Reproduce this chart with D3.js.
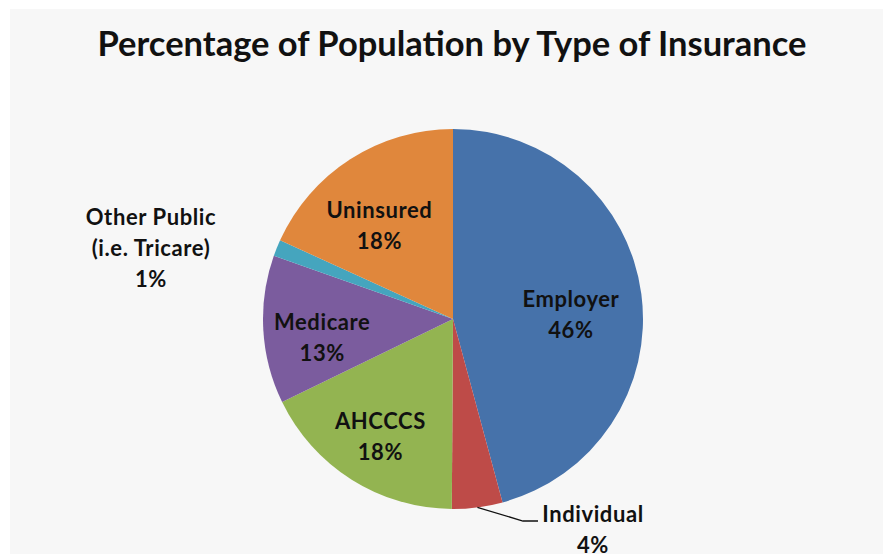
<!DOCTYPE html>
<html>
<head>
<meta charset="utf-8">
<script src="https://cdn.jsdelivr.net/npm/d3@7"></script>
<style>
    body { margin: 0; background: #ffffff; }
    svg text { font-family: Lato, "Open Sans", sans-serif; font-weight: bold; fill: #111; }
</style>
</head>
<body>
<div id="chart"></div>
<script>
// data (percent of population)
const categories = ["Employer", "Individual", "AHCCCS", "Medicare", "Other Public", "Uninsured"];
const shares = [45.8, 4.3, 17.7, 12.6, 1.4, 18.2];
const labelNames = [["Employer"], ["Individual"], ["AHCCCS"], ["Medicare"], ["Other Public", "(i.e. Tricare)"], ["Uninsured"]];
const colors = ["#4672aa", "#be4b48", "#93b451", "#7b5c9e", "#45a5be", "#e0873c"];

const width = 883;
const height = 554;
const cx = 453, cy = 319;
const radius = 190;
const lineGap = 31;

const svg = d3.select("#chart")
    .append("svg")
    .attr("width", width)
    .attr("height", height);

// grey chart area
svg.append("rect")
    .attr("x", 10)
    .attr("y", 9)
    .attr("width", width - 10)
    .attr("height", height - 9)
    .attr("fill", "#f7f7f7");

svg.append("text")
    .attr("x", 452)
    .attr("y", 56)
    .attr("text-anchor", "middle")
    .style("font-size", "34.5px")
    .text("Percentage of Population by Type of Insurance");

const slices = categories.map((c, i) => ({ name: c, value: shares[i], lines: labelNames[i], color: colors[i] }));

const pie = d3.pie()
    .value(d => d.value)
    .sort(null);

const arc = d3.arc()
    .innerRadius(0)
    .outerRadius(radius);

const labelArc = d3.arc()
    .innerRadius(125)
    .outerRadius(125);

const edgeArc = d3.arc()
    .innerRadius(radius)
    .outerRadius(radius);

const arcs = pie(slices);

const pieGroup = svg.append("g")
    .attr("transform", `translate(${cx}, ${cy})`);

pieGroup.selectAll("path")
    .data(arcs)
    .enter()
    .append("path")
    .attr("d", arc)
    .attr("fill", d => d.data.color);

// labels - small slices get their label outside the pie
const outside = {
    "Individual": { x: 593, y: 522 },
    "Other Public": { x: 151, y: 225 }
};

arcs.forEach(d => {
    const textLines = d.data.lines.concat([Math.round(d.data.value) + "%"]);
    let x, y;
    if (outside[d.data.name]) {
        x = outside[d.data.name].x - cx;
        y = outside[d.data.name].y - cy;
    } else {
        const c = labelArc.centroid(d);
        x = c[0] - 6;
        y = c[1] + 12 - 8;
    }
    const t = pieGroup.append("text")
        .attr("text-anchor", "middle")
        .style("font-size", "22px")
        .style("letter-spacing", "0.6px");
    textLines.forEach((s, i) => {
        t.append("tspan")
            .attr("x", x)
            .attr("y", y + i * lineGap)
            .text(s);
    });
});

// leader line for Individual
const ind = arcs[categories.indexOf("Individual")];
const p0 = edgeArc.centroid(ind);
const line = d3.line();
pieGroup.append("path")
    .attr("d", line([p0, [523 - cx, 521 - cy], [538 - cx, 521 - cy]]))
    .attr("fill", "none")
    .attr("stroke", "#111")
    .attr("stroke-width", 1.3);
</script>
</body>
</html>
